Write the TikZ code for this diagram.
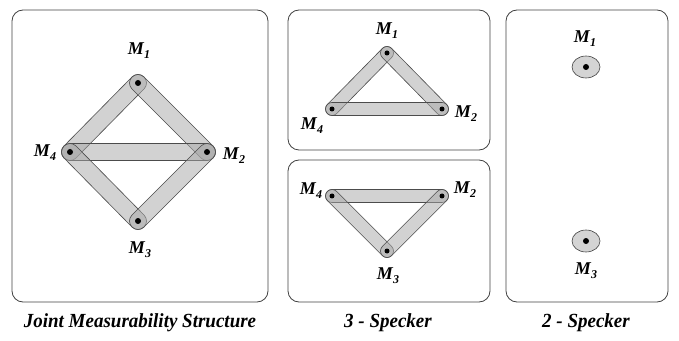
\documentclass[tikz,border=0pt]{standalone}
\usepackage{fontspec}
\setmainfont{Liberation Serif}
\usetikzlibrary{calc,shapes.geometric}
\tikzset{
  panel/.style={draw=black!75, line width=0.8pt, rounded corners=11pt},
  capsulestyle/.style={draw=black!70, line width=0.6pt, fill=black!35, fill opacity=0.5},
  vdot/.style={circle, fill=black, inner sep=0pt, minimum size=#1},
  lbl/.style={font=\bfseries\itshape\fontsize{18}{18}\selectfont, inner sep=0pt},
  captext/.style={font=\bfseries\itshape\fontsize{20}{20}\selectfont, inner sep=0pt},
  oval/.style={ellipse, draw=black!75, line width=0.6pt, fill=black!17, minimum width=28pt, minimum height=22pt, inner sep=0pt}
}
\newcommand\capsule[3]{%
  \path[capsulestyle] let \p1=($(#2)-(#1)$), \n1={atan2(\y1,\x1)} in
   ($(#1)+(\n1+90:#3)$) -- ($(#2)+(\n1+90:#3)$)
   arc[start angle=\n1+90, delta angle=-180, radius=#3]
   -- ($(#1)+(\n1-90:#3)$)
   arc[start angle=\n1-90, delta angle=-180, radius=#3] -- cycle;}
\newcommand\ML[1]{M\kern0.2pt\raisebox{-4pt}{\fontsize{12}{12}\selectfont #1}}
\newcommand\CAP[1]{\scalebox{0.95}[1]{#1}}
\begin{document}
\begin{tikzpicture}[x=1pt,y=1pt]
\useasboundingbox (0,0) rectangle (679,340);
% panels
\draw[panel] (12,38) rectangle (268,330);
\draw[panel] (288,190) rectangle (490,330);
\draw[panel] (288,38) rectangle (490,180);
\draw[panel] (506,38) rectangle (668,330);
% left panel
\coordinate (a1) at (138,257);
\coordinate (a4) at (70,188);
\coordinate (a2) at (207,188);
\coordinate (a3) at (138,119);
\capsule{a1}{a4}{8.5pt}
\capsule{a1}{a2}{8.5pt}
\capsule{a4}{a2}{8.5pt}
\capsule{a4}{a3}{8.5pt}
\capsule{a2}{a3}{8.5pt}
\foreach \p in {a1,a2,a3,a4} \node[vdot=6pt] at (\p) {};
\node[lbl] (la1) at (139,289) {\ML{1}};
\node[lbl] (la4) at (45,187) {\ML{4}};
\node[lbl] (la2) at (234,184) {\ML{2}};
\node[lbl] (la3) at (140,90) {\ML{3}};
% middle top
\coordinate (b1) at (387,287);
\coordinate (b4) at (332,231);
\coordinate (b2) at (442,231);
\capsule{b1}{b4}{6.5pt}
\capsule{b1}{b2}{6.5pt}
\capsule{b4}{b2}{6.5pt}
\foreach \p in {b1,b2,b4} \node[vdot=5pt] at (\p) {};
\node[lbl] (lb1) at (387,309) {\ML{1}};
\node[lbl] (lb4) at (312,214) {\ML{4}};
\node[lbl] (lb2) at (466,226) {\ML{2}};
% middle bottom
\coordinate (c4) at (332,144);
\coordinate (c2) at (442,144);
\coordinate (c3) at (387,89);
\capsule{c4}{c2}{6.5pt}
\capsule{c4}{c3}{6.5pt}
\capsule{c2}{c3}{6.5pt}
\foreach \p in {c2,c3,c4} \node[vdot=5pt] at (\p) {};
\node[lbl] (lc4) at (311,149) {\ML{4}};
\node[lbl] (lc2) at (465,150) {\ML{2}};
\node[lbl] (lc3) at (388,64) {\ML{3}};
% right
\node[oval] (d1) at (586,273) {};
\node[oval] (d3) at (586,99) {};
\node[vdot=6pt] at (d1) {};
\node[vdot=6pt] at (d3) {};
\node[lbl] (ld1) at (585,301) {\ML{1}};
\node[lbl] (ld3) at (586,69) {\ML{3}};
% captions
\node[captext] (t1) at (140,17) {\CAP{Joint Measurability Structure}};
\node[captext] (t2) at (388,17) {\CAP{3 - Specker}};
\node[captext] (t3) at (586,17) {\CAP{2 - Specker}};
\end{tikzpicture}
\end{document}
